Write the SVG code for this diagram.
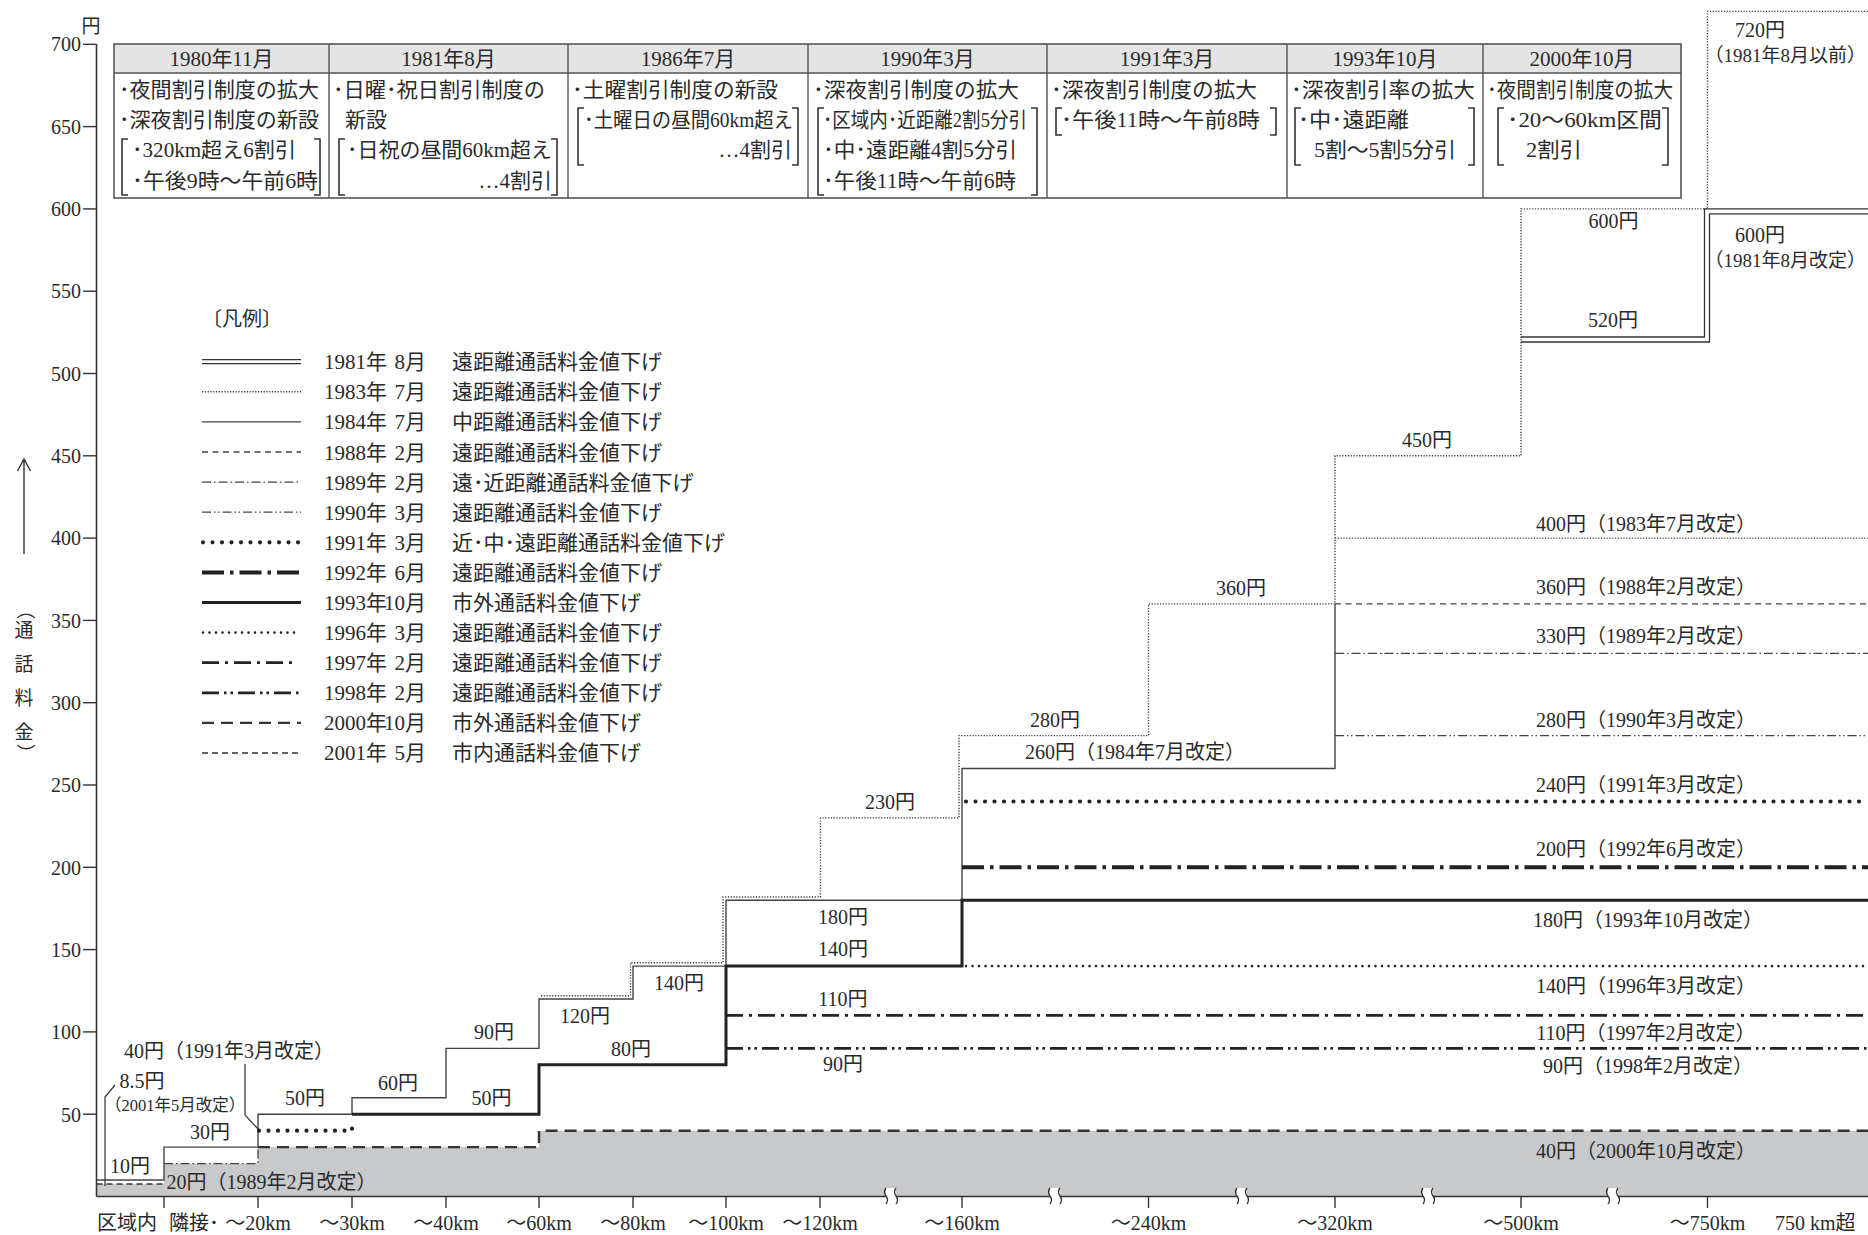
<svg xmlns="http://www.w3.org/2000/svg" width="1868" height="1235" viewBox="0 0 1868 1235">
<defs>
<style>
text { font-family: 'Liberation Serif','Noto Sans CJK JP',serif; fill:#2a2a2a; font-size:20px; }
.sm { font-size:16.5px; }
.lg { font-size:21px; }
.tb { font-size:21px; }
.m { text-anchor:middle; }
.e { text-anchor:end; }
.vt { writing-mode:vertical-rl; font-size:19px; }
.ln { fill:none; stroke:#333; }
.br { fill:none; stroke:#333; stroke-width:1.6; }
.l81 { fill:none; stroke:#333; stroke-width:1.3; }
.l83 { fill:none; stroke:#3a3a3a; stroke-width:1.4; stroke-dasharray:1.2 1.6; }
.l84 { fill:none; stroke:#444; stroke-width:1.4; }
.l88 { fill:none; stroke:#444; stroke-width:1.3; stroke-dasharray:6 4.5; }
.l89 { fill:none; stroke:#444; stroke-width:1.3; stroke-dasharray:9 3 1.5 3; }
.l90 { fill:none; stroke:#444; stroke-width:1.3; stroke-dasharray:9 3 1.5 2.5 1.5 3; }
.l91 { fill:none; stroke:#222; stroke-width:4.2; stroke-linecap:round; stroke-dasharray:0 9.5; }
.l92 { fill:none; stroke:#222; stroke-width:4; stroke-dasharray:22 6 3.5 6; }
.l93 { fill:none; stroke:#222; stroke-width:3; }
.l96 { fill:none; stroke:#222; stroke-width:2.6; stroke-linecap:round; stroke-dasharray:0 6.5; }
.l97 { fill:none; stroke:#222; stroke-width:2.8; stroke-dasharray:17 6 3 6; }
.l98 { fill:none; stroke:#222; stroke-width:2.8; stroke-dasharray:17 5 2.5 4 2.5 5; }
.l00 { fill:none; stroke:#333; stroke-width:2.4; stroke-dasharray:12 7; }
.l01 { fill:none; stroke:#333; stroke-width:1.3; stroke-dasharray:6 4; }
</style>
</defs>
<rect width="1868" height="1235" fill="#ffffff"/>

<g id="fill2001">
<polygon points="96.5,1184 164,1184 164,1163.6 258,1163.6 258,1147.1 539,1147.1 539,1130.7 1868,1130.7 1868,1196.5 96.5,1196.5" fill="#c8c9cb"/>
</g>

<g id="table">
<rect x="114" y="44" width="1567" height="29" fill="#e4e4e4"/>
<rect x="114" y="44" width="1567" height="154" fill="none" stroke="#555" stroke-width="1.6"/>
<line x1="114" y1="73" x2="1681" y2="73" stroke="#555" stroke-width="1.4"/>
<g stroke="#555" stroke-width="1.4">
<line x1="329" y1="44" x2="329" y2="198"/>
<line x1="568" y1="44" x2="568" y2="198"/>
<line x1="808" y1="44" x2="808" y2="198"/>
<line x1="1047" y1="44" x2="1047" y2="198"/>
<line x1="1287" y1="44" x2="1287" y2="198"/>
<line x1="1483" y1="44" x2="1483" y2="198"/>
</g>
<g id="col1980">
<text class="m tb" x="221.5" y="66">1980年11月</text>
<text class="tb" x="119" y="97" textLength="200" lengthAdjust="spacingAndGlyphs">･夜間割引制度の拡大</text>
<text class="tb" x="119" y="127" textLength="200" lengthAdjust="spacingAndGlyphs">･深夜割引制度の新設</text>
<text class="tb" x="132" y="157" textLength="164" lengthAdjust="spacingAndGlyphs">･320km超え6割引</text>
<text class="tb" x="132" y="188" textLength="186" lengthAdjust="spacingAndGlyphs">･午後9時～午前6時</text>
<path class="br" d="M128,139 H122 V195 H128 M314,139 H320 V195 H314"/>
</g>
<g id="col1981">
<text class="m tb" x="448.5" y="66">1981年8月</text>
<text class="tb" x="333" y="97" textLength="212" lengthAdjust="spacingAndGlyphs">･日曜･祝日割引制度の</text>
<text class="tb" x="345" y="127">新設</text>
<text class="tb" x="347" y="157" textLength="205" lengthAdjust="spacingAndGlyphs">･日祝の昼間60km超え</text>
<text class="tb e" x="552" y="188">…4割引</text>
<path class="br" d="M345,139 H339 V195 H345 M551,139 H557 V195 H551"/>
</g>
<g id="col1986">
<text class="m tb" x="688" y="66">1986年7月</text>
<text class="tb" x="572" y="97" textLength="206" lengthAdjust="spacingAndGlyphs">･土曜割引制度の新設</text>
<text class="tb" x="584" y="127" textLength="209" lengthAdjust="spacingAndGlyphs">･土曜日の昼間60km超え</text>
<text class="tb e" x="792" y="157">…4割引</text>
<path class="br" d="M584,108 H578 V165 H584 M792,108 H798 V165 H792"/>
</g>
<g id="col1990">
<text class="m tb" x="927.5" y="66">1990年3月</text>
<text class="tb" x="813" y="97" textLength="206" lengthAdjust="spacingAndGlyphs">･深夜割引制度の拡大</text>
<text class="tb" x="823" y="127" textLength="204" lengthAdjust="spacingAndGlyphs">･区域内･近距離2割5分引</text>
<text class="tb" x="823" y="157" textLength="194" lengthAdjust="spacingAndGlyphs">･中･遠距離4割5分引</text>
<text class="tb" x="823" y="188" textLength="193" lengthAdjust="spacingAndGlyphs">･午後11時～午前6時</text>
<path class="br" d="M824,108 H818 V195 H824 M1031,108 H1037 V195 H1031"/>
</g>
<g id="col1991">
<text class="m tb" x="1167" y="66">1991年3月</text>
<text class="tb" x="1051" y="97" textLength="206" lengthAdjust="spacingAndGlyphs">･深夜割引制度の拡大</text>
<text class="tb" x="1061" y="127" textLength="199" lengthAdjust="spacingAndGlyphs">･午後11時～午前8時</text>
<path class="br" d="M1062,108 H1056 V135 H1062 M1270,108 H1276 V135 H1270"/>
</g>
<g id="col1993">
<text class="m tb" x="1385" y="66">1993年10月</text>
<text class="tb" x="1291" y="97" textLength="184" lengthAdjust="spacingAndGlyphs">･深夜割引率の拡大</text>
<text class="tb" x="1298" y="127" textLength="111" lengthAdjust="spacingAndGlyphs">･中･遠距離</text>
<text class="tb" x="1314" y="157" textLength="142" lengthAdjust="spacingAndGlyphs">5割～5割5分引</text>
<path class="br" d="M1301,108 H1295 V165 H1301 M1468,108 H1474 V165 H1468"/>
</g>
<g id="col2000">
<text class="m tb" x="1582" y="66">2000年10月</text>
<text class="tb" x="1487" y="97" textLength="186" lengthAdjust="spacingAndGlyphs">･夜間割引制度の拡大</text>
<text class="tb" x="1507" y="127" textLength="155" lengthAdjust="spacingAndGlyphs">･20～60km区間</text>
<text class="tb" x="1526" y="157" textLength="56" lengthAdjust="spacingAndGlyphs">2割引</text>
<path class="br" d="M1504,108 H1498 V165 H1504 M1662,108 H1668 V165 H1662"/>
</g>
</g>

<g id="legend">
<text x="202" y="326">〔凡例〕</text>
<g id="lg1"><line class="l81" x1="202" y1="359.7" x2="301" y2="359.7"/><line class="l81" x1="202" y1="363.7" x2="301" y2="363.7"/>
<text class="lg" x="324" y="369">1981年<tspan x="426" class="e">8月</tspan></text><text class="lg" x="452" y="369">遠距離通話料金値下げ</text></g>
<g id="lg2"><line class="l83" x1="202" y1="391.8" x2="301" y2="391.8"/>
<text class="lg" x="324" y="399">1983年<tspan x="426" class="e">7月</tspan></text><text class="lg" x="452" y="399">遠距離通話料金値下げ</text></g>
<g id="lg3"><line class="l84" x1="202" y1="421.9" x2="301" y2="421.9"/>
<text class="lg" x="324" y="429">1984年<tspan x="426" class="e">7月</tspan></text><text class="lg" x="452" y="429">中距離通話料金値下げ</text></g>
<g id="lg4"><line class="l88" x1="202" y1="452" x2="301" y2="452"/>
<text class="lg" x="324" y="459.5">1988年<tspan x="426" class="e">2月</tspan></text><text class="lg" x="452" y="459.5">遠距離通話料金値下げ</text></g>
<g id="lg5"><line class="l89" x1="202" y1="482.1" x2="301" y2="482.1"/>
<text class="lg" x="324" y="489.5">1989年<tspan x="426" class="e">2月</tspan></text><text class="lg" x="452" y="489.5">遠･近距離通話料金値下げ</text></g>
<g id="lg6"><line class="l90" x1="202" y1="512.2" x2="301" y2="512.2"/>
<text class="lg" x="324" y="519.5">1990年<tspan x="426" class="e">3月</tspan></text><text class="lg" x="452" y="519.5">遠距離通話料金値下げ</text></g>
<g id="lg7"><line class="l91" x1="203" y1="542.3" x2="300" y2="542.3"/>
<text class="lg" x="324" y="549.5">1991年<tspan x="426" class="e">3月</tspan></text><text class="lg" x="452" y="549.5">近･中･遠距離通話料金値下げ</text></g>
<g id="lg8"><line class="l92" x1="202" y1="572.4" x2="301" y2="572.4"/>
<text class="lg" x="324" y="580">1992年<tspan x="426" class="e">6月</tspan></text><text class="lg" x="452" y="580">遠距離通話料金値下げ</text></g>
<g id="lg9"><line class="l93" x1="202" y1="602.5" x2="301" y2="602.5"/>
<text class="lg" x="324" y="610">1993年<tspan x="426" class="e">10月</tspan></text><text class="lg" x="452" y="610">市外通話料金値下げ</text></g>
<g id="lg10"><line class="l96" x1="203" y1="632.6" x2="300" y2="632.6"/>
<text class="lg" x="324" y="640">1996年<tspan x="426" class="e">3月</tspan></text><text class="lg" x="452" y="640">遠距離通話料金値下げ</text></g>
<g id="lg11"><line class="l97" x1="202" y1="662.7" x2="296" y2="662.7"/>
<text class="lg" x="324" y="670">1997年<tspan x="426" class="e">2月</tspan></text><text class="lg" x="452" y="670">遠距離通話料金値下げ</text></g>
<g id="lg12"><line class="l98" x1="202" y1="692.8" x2="301" y2="692.8"/>
<text class="lg" x="324" y="700">1998年<tspan x="426" class="e">2月</tspan></text><text class="lg" x="452" y="700">遠距離通話料金値下げ</text></g>
<g id="lg13"><line class="l00" x1="202" y1="722.9" x2="301" y2="722.9"/>
<text class="lg" x="324" y="730">2000年<tspan x="426" class="e">10月</tspan></text><text class="lg" x="452" y="730">市外通話料金値下げ</text></g>
<g id="lg14"><line class="l01" x1="202" y1="753" x2="301" y2="753"/>
<text class="lg" x="324" y="760">2001年<tspan x="426" class="e">5月</tspan></text><text class="lg" x="452" y="760">市内通話料金値下げ</text></g>
</g>

<g id="steps">
<path class="l01" d="M96.5,1184 H164"/>
<path class="l84" d="M96.5,1180 H164 V1147.1 H258 V1114.2 H352 V1097.7 H446 V1048.4 H539 V999 H633 V966.1 H726 V900.2 H962 V768.5 H1335 V603.9"/>
<path class="l83" d="M541,995.7 H630.5 V962.8 H723 V897 H820.5 V817.9 H959 V735.6 H1148.5 V603.9 H1335 V455.8 H1521 V208.9 H1707.5 V11.4 H1868"/>
<path class="l83" d="M1335,538.1 H1868"/>
<path class="l81" d="M1521,337 H1704.5 V208.9 H1868"/>
<path class="l81" d="M1521,342 H1709.5 V213.9 H1868"/>
<path class="l88" d="M1335,603.9 H1868"/>
<path class="l89" d="M164,1163.6 H258 V1147.1"/>
<path class="l89" d="M1335,653.3 H1868"/>
<path class="l90" d="M1335,735.6 H1868"/>
<path class="l91" d="M259,1130.7 H352 V1120"/>
<path class="l91" d="M966,801.5 H1868"/>
<path class="l92" d="M962,867.3 H1868"/>
<path class="l93" d="M352,1114.2 H539 V1064.8 H726 V966.1 H962 V900.2 H1868"/>
<path class="l96" d="M966,966.1 H1868"/>
<path class="l97" d="M726,1015.4 H1868"/>
<path class="l98" d="M726,1048.4 H1868"/>
<path class="l00" d="M258,1147.1 H539 V1130.7 H1868"/>
<path class="ln" stroke-width="1.2" d="M105,1186 V1097 L115,1085"/>
<path class="ln" stroke-width="1.2" d="M245,1064 V1115 L258,1129"/>
</g>

<g id="axes">
<line x1="96.5" y1="44" x2="96.5" y2="1196.5" stroke="#333" stroke-width="1.6"/>
<line x1="96.5" y1="1196.5" x2="1868" y2="1196.5" stroke="#333" stroke-width="1.6"/>
<g stroke="#333" stroke-width="1.4">
<line x1="83" y1="44.3" x2="96.5" y2="44.3"/>
<line x1="83" y1="126.6" x2="96.5" y2="126.6"/>
<line x1="83" y1="208.9" x2="96.5" y2="208.9"/>
<line x1="83" y1="291.2" x2="96.5" y2="291.2"/>
<line x1="83" y1="373.5" x2="96.5" y2="373.5"/>
<line x1="83" y1="455.8" x2="96.5" y2="455.8"/>
<line x1="83" y1="538.1" x2="96.5" y2="538.1"/>
<line x1="83" y1="620.4" x2="96.5" y2="620.4"/>
<line x1="83" y1="702.7" x2="96.5" y2="702.7"/>
<line x1="83" y1="785" x2="96.5" y2="785"/>
<line x1="83" y1="867.3" x2="96.5" y2="867.3"/>
<line x1="83" y1="949.6" x2="96.5" y2="949.6"/>
<line x1="83" y1="1031.9" x2="96.5" y2="1031.9"/>
<line x1="83" y1="1114.2" x2="96.5" y2="1114.2"/>
</g>
<g>
<text class="e" x="81" y="51">700</text>
<text class="e" x="81" y="133.5">650</text>
<text class="e" x="81" y="216">600</text>
<text class="e" x="81" y="298">550</text>
<text class="e" x="81" y="380.5">500</text>
<text class="e" x="81" y="463">450</text>
<text class="e" x="81" y="545">400</text>
<text class="e" x="81" y="627.5">350</text>
<text class="e" x="81" y="710">300</text>
<text class="e" x="81" y="792">250</text>
<text class="e" x="81" y="874.5">200</text>
<text class="e" x="81" y="957">150</text>
<text class="e" x="81" y="1039">100</text>
<text class="e" x="81" y="1121.5">50</text>
<text class="m" x="91" y="33" style="font-size:19px">円</text>
</g>
<g id="ytitle">
<path class="ln" stroke-width="1.4" d="M24,459 V554 M17.5,471 L24,459 L30.5,471"/>
<text class="vt" x="24" y="600">（</text>
<text class="m" x="24" y="637" style="font-size:19px">通</text>
<text class="m" x="24" y="671" style="font-size:19px">話</text>
<text class="m" x="24" y="705" style="font-size:19px">料</text>
<text class="m" x="24" y="739" style="font-size:19px">金</text>
<text class="vt" x="24" y="744">）</text>
</g>
<g stroke="#333" stroke-width="1.4">
<line x1="164" y1="1197" x2="164" y2="1208"/>
<line x1="258" y1="1197" x2="258" y2="1208"/>
<line x1="352" y1="1197" x2="352" y2="1208"/>
<line x1="446" y1="1197" x2="446" y2="1208"/>
<line x1="539" y1="1197" x2="539" y2="1208"/>
<line x1="633" y1="1197" x2="633" y2="1208"/>
<line x1="726" y1="1197" x2="726" y2="1208"/>
<line x1="820" y1="1197" x2="820" y2="1208"/>
<line x1="962" y1="1197" x2="962" y2="1208"/>
<line x1="1148.5" y1="1197" x2="1148.5" y2="1208"/>
<line x1="1335" y1="1197" x2="1335" y2="1208"/>
<line x1="1521" y1="1197" x2="1521" y2="1208"/>
<line x1="1707.5" y1="1197" x2="1707.5" y2="1208"/>
</g>
<g id="breaks">
<g fill="#fff"><rect x="886" y="1188" width="10" height="10"/><rect x="1050" y="1188" width="10" height="10"/><rect x="1237" y="1188" width="10" height="10"/><rect x="1423" y="1188" width="10" height="10"/><rect x="1608" y="1188" width="10" height="10"/></g>
<g fill="none" stroke="#333" stroke-width="1.3">
<path d="M886,1188 q-3,4 0,8 q3,4 0,8 M896,1188 q-3,4 0,8 q3,4 0,8"/>
<path d="M1050,1188 q-3,4 0,8 q3,4 0,8 M1060,1188 q-3,4 0,8 q3,4 0,8"/>
<path d="M1237,1188 q-3,4 0,8 q3,4 0,8 M1247,1188 q-3,4 0,8 q3,4 0,8"/>
<path d="M1423,1188 q-3,4 0,8 q3,4 0,8 M1433,1188 q-3,4 0,8 q3,4 0,8"/>
<path d="M1608,1188 q-3,4 0,8 q3,4 0,8 M1618,1188 q-3,4 0,8 q3,4 0,8"/>
</g>
</g>
<g id="xlabels">
<text x="97" y="1230">区域内</text>
<text x="169" y="1230">隣接･</text>
<text class="m" x="258" y="1230">～20km</text>
<text class="m" x="352" y="1230">～30km</text>
<text class="m" x="446" y="1230">～40km</text>
<text class="m" x="539" y="1230">～60km</text>
<text class="m" x="633" y="1230">～80km</text>
<text class="m" x="726" y="1230">～100km</text>
<text class="m" x="820" y="1230">～120km</text>
<text class="m" x="962" y="1230">～160km</text>
<text class="m" x="1148.5" y="1230">～240km</text>
<text class="m" x="1335" y="1230">～320km</text>
<text class="m" x="1521" y="1230">～500km</text>
<text class="m" x="1707.5" y="1230">～750km</text>
<text x="1775" y="1230">750 km超</text>
</g>
</g>

<g id="labels">
<text class="m" x="142" y="1088">8.5円</text>
<text class="m sm" x="175" y="1111">（2001年5月改定）</text>
<text class="m" x="130" y="1173">10円</text>
<text class="m" x="210" y="1139">30円</text>
<text class="m" x="271.5" y="1189">20円（1989年2月改定）</text>
<text class="m" x="229" y="1058">40円（1991年3月改定）</text>
<text class="m" x="305" y="1105">50円</text>
<text class="m" x="398" y="1090">60円</text>
<text class="m" x="494" y="1039">90円</text>
<text class="m" x="491.5" y="1105">50円</text>
<text class="m" x="585" y="1023">120円</text>
<text class="m" x="631" y="1056">80円</text>
<text class="m" x="679" y="990">140円</text>
<text class="m" x="843" y="924">180円</text>
<text class="m" x="843" y="956">140円</text>
<text class="m" x="843" y="1006">110円</text>
<text class="m" x="843" y="1071">90円</text>
<text class="m" x="890" y="809">230円</text>
<text class="m" x="1055" y="727">280円</text>
<text class="m" x="1135" y="759">260円（1984年7月改定）</text>
<text class="m" x="1241" y="595">360円</text>
<text class="m" x="1427" y="447">450円</text>
<text class="m" x="1613" y="327">520円</text>
<text class="m" x="1613.5" y="228">600円</text>
<text class="m" x="1760" y="242">600円</text>
<text class="e" x="1866" y="267" style="font-size:19px">（1981年8月改定）</text>
<text class="m" x="1760" y="37">720円</text>
<text class="e" x="1866" y="62" style="font-size:19px">（1981年8月以前）</text>
<text class="m" x="1646" y="531">400円（1983年7月改定）</text>
<text class="m" x="1646" y="594">360円（1988年2月改定）</text>
<text class="m" x="1646" y="643">330円（1989年2月改定）</text>
<text class="m" x="1646" y="727">280円（1990年3月改定）</text>
<text class="m" x="1646" y="792">240円（1991年3月改定）</text>
<text class="m" x="1646" y="856">200円（1992年6月改定）</text>
<text class="m" x="1648" y="927">180円（1993年10月改定）</text>
<text class="m" x="1646" y="993">140円（1996年3月改定）</text>
<text class="m" x="1646" y="1040">110円（1997年2月改定）</text>
<text class="m" x="1648" y="1073">90円（1998年2月改定）</text>
<text class="m" x="1646" y="1158">40円（2000年10月改定）</text>
</g>
</svg>
